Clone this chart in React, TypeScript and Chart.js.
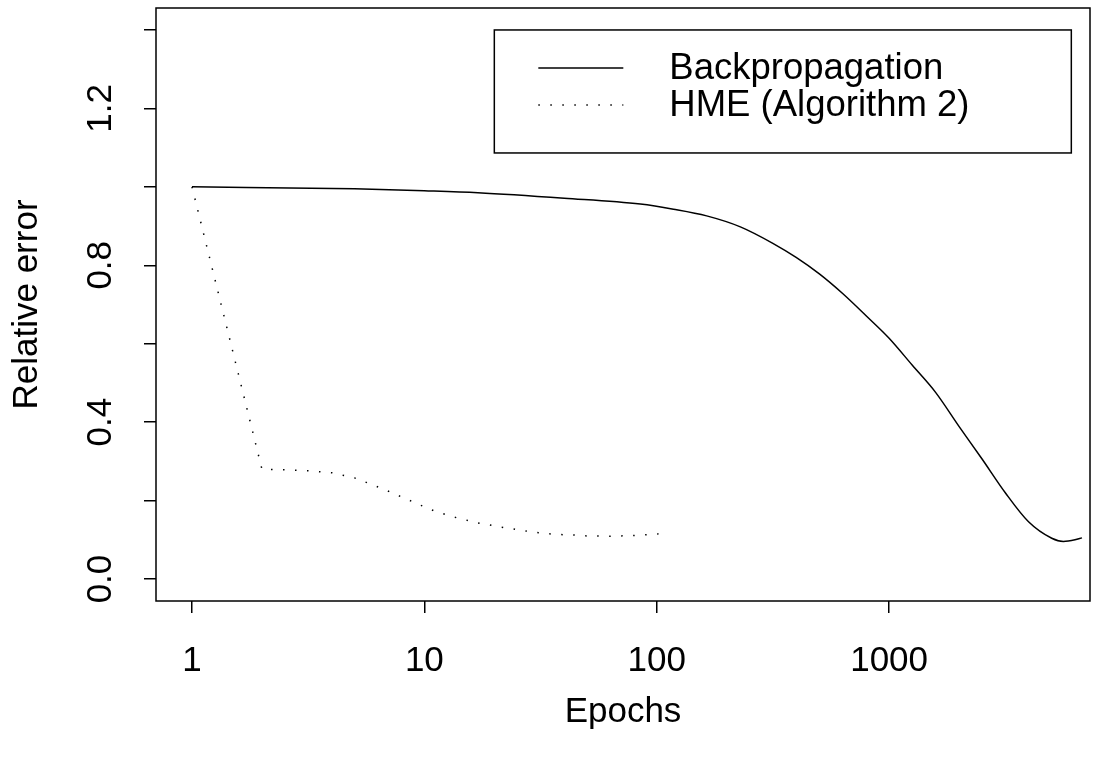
import React, { useEffect, useRef } from "react";
import { Chart, registerables } from "chart.js";

Chart.register(...registerables);

// ---- data ----
const bpEpochs = [1, 5, 10, 17, 40, 85, 118, 164, 229, 316, 398, 501, 631, 794, 1000, 1259, 1585, 1995, 2512, 3162, 3981, 5012, 5623, 6310, 6760];
const bpError = [1.0, 0.995, 0.99, 0.985, 0.971, 0.956, 0.943, 0.926, 0.898, 0.856, 0.82, 0.778, 0.728, 0.672, 0.614, 0.545, 0.476, 0.39, 0.306, 0.22, 0.146, 0.104, 0.096, 0.1, 0.105];

const hmeEpochs = [1, 2, 3, 4, 5, 6, 7, 8, 9, 10, 11, 12, 13, 15, 17, 19, 21, 24, 27, 31, 35, 40, 45, 50, 56, 63, 70, 80, 90, 100, 113];
const hmeError = [1.0, 0.28, 0.277, 0.271, 0.258, 0.240, 0.224, 0.209, 0.196, 0.184, 0.174, 0.167, 0.160, 0.151, 0.143, 0.138, 0.133, 0.128, 0.123, 0.118, 0.115, 0.113, 0.112, 0.110, 0.110, 0.109, 0.110, 0.111, 0.113, 0.115, 0.116];

const xTickValues = [1, 10, 100, 1000];
const yTickValues = [0, 0.2, 0.4, 0.6, 0.8, 1.0, 1.2, 1.4];
const yLabelValues = [0, 0.4, 0.8, 1.2];

const seriesNames = ["Backpropagation", "HME (Algorithm 2)"];
const xTitle = "Epochs";
const yTitle = "Relative error";
const legendAnchor = { x: 20, y: 1.4 };

const FONT = "'Liberation Sans', Arial, Helvetica, sans-serif";
const FS = 35;
const LFS = 36.5;
const DOT = [1.5, 10.5];

const rPlugin = {
  id: "rstyle",
  afterDraw(chart: any) {
    const ctx = chart.ctx as CanvasRenderingContext2D;
    const a = chart.chartArea;
    const xs = chart.scales.x;
    const ys = chart.scales.y;
    ctx.save();
    ctx.strokeStyle = "#000";
    ctx.fillStyle = "#000";
    ctx.lineWidth = 1.5;
    ctx.setLineDash([]);
    ctx.strokeRect(a.left, a.top, a.right - a.left, a.bottom - a.top);

    ctx.font = `${FS}px ${FONT}`;
    ctx.textAlign = "center";
    ctx.textBaseline = "middle";
    // y tick labels (rotated)
    for (const v of yLabelValues) {
      const py = ys.getPixelForValue(v);
      ctx.save();
      ctx.translate(101, py);
      ctx.rotate(-Math.PI / 2);
      ctx.fillText(v.toFixed(1), 0, 0);
      ctx.restore();
    }
    // axis titles
    ctx.fillText(xTitle, (a.left + a.right) / 2, 712);
    ctx.save();
    ctx.translate(27, (a.top + a.bottom) / 2);
    ctx.rotate(-Math.PI / 2);
    ctx.fillText(yTitle, 0, 0);
    ctx.restore();

    // legend
    const lx = xs.getPixelForValue(legendAnchor.x);
    const ly = ys.getPixelForValue(legendAnchor.y);
    const lw = 577;
    const lh = 123;
    ctx.lineWidth = 1.5;
    ctx.strokeRect(lx, ly, lw, lh);
    const rows = [ly + 38, ly + 75];
    ctx.beginPath();
    ctx.moveTo(lx + 44, rows[0]);
    ctx.lineTo(lx + 129, rows[0]);
    ctx.stroke();
    ctx.setLineDash(DOT);
    ctx.beginPath();
    ctx.moveTo(lx + 44, rows[1]);
    ctx.lineTo(lx + 129, rows[1]);
    ctx.stroke();
    ctx.setLineDash([]);
    ctx.font = `${LFS}px ${FONT}`;
    ctx.textAlign = "left";
    ctx.fillText(seriesNames[0], lx + 175, rows[0] + 1);
    ctx.fillText(seriesNames[1], lx + 175, rows[1] + 1);
    ctx.restore();
  },
};

export default function App() {
  const ref = useRef<HTMLCanvasElement | null>(null);
  useEffect(() => {
    if (!ref.current) return;
    const chart = new Chart(ref.current, {
      type: "line",
      data: {
        datasets: [
          {
            label: seriesNames[0],
            data: bpEpochs.map((e, i) => ({ x: e, y: bpError[i] })),
            borderColor: "#000",
            borderWidth: 1.5,
            pointRadius: 0,
            fill: false,
            cubicInterpolationMode: "monotone",
          },
          {
            label: seriesNames[1],
            data: hmeEpochs.map((e, i) => ({ x: e, y: hmeError[i] })),
            borderColor: "#000",
            borderWidth: 1.5,
            borderDash: DOT,
            borderCapStyle: "butt",
            pointRadius: 0,
            fill: false,
            tension: 0,
          },
        ],
      },
      options: {
        animation: false,
        responsive: false,
        layout: { padding: { top: 8, right: 25, left: 0, bottom: 0 } },
        plugins: { legend: { display: false }, tooltip: { enabled: false } },
        scales: {
          x: {
            type: "logarithmic",
            min: 0.7035,
            max: 7320,
            afterBuildTicks: (s: any) => {
              s.ticks = xTickValues.map((v) => ({ value: v }));
            },
            afterFit: (s: any) => {
              s.height = 159;
            },
            ticks: {
              callback: (v: any) => String(v),
              font: { family: FONT, size: FS },
              color: "#000",
              padding: 27,
              maxRotation: 0,
              minRotation: 0,
              autoSkip: false,
            },
            grid: { drawOnChartArea: false, drawTicks: true, tickLength: 12, color: "#000", tickColor: "#000", lineWidth: 1.5 },
            border: { display: false },
          },
          y: {
            type: "linear",
            min: -0.056,
            max: 1.456,
            afterBuildTicks: (s: any) => {
              s.ticks = yTickValues.map((v) => ({ value: v }));
            },
            afterFit: (s: any) => {
              s.width = 156;
            },
            ticks: { display: false },
            grid: { drawOnChartArea: false, drawTicks: true, tickLength: 12, color: "#000", tickColor: "#000", lineWidth: 1.5 },
            border: { display: false },
          },
        },
      } as any,
      plugins: [rPlugin],
    });
    return () => chart.destroy();
  }, []);
  return (
    <div style={{ position: "absolute", left: 0, top: 0, width: 1115, height: 760, background: "#fff" }}>
      <canvas ref={ref} width={1115} height={760} style={{ display: "block" }} />
    </div>
  );
}
